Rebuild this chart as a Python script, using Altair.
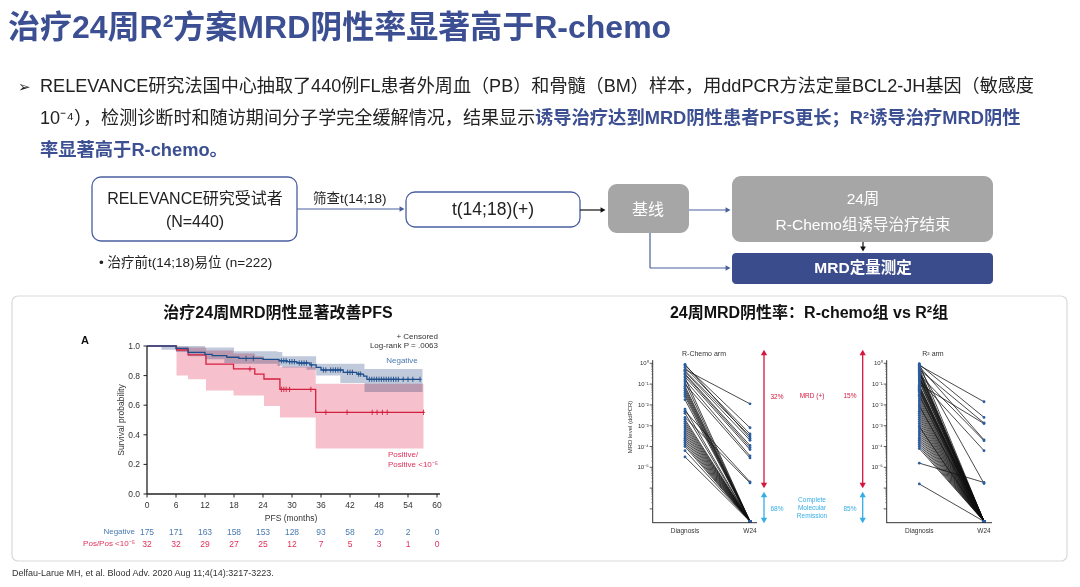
import math
import altair as alt
import pandas as pd

OFF = 8
FONT = "Liberation Sans, Noto Sans CJK SC, sans-serif"

# ---------------- data ----------------
# KM: MRD negative (blue) and positive/positive<1e-5 (red)
neg_t = [0, 6, 8.5, 12, 13.5, 16.5, 19, 24, 27.3, 29, 31, 33.7, 35, 36, 40.6, 43.4, 44.8, 45.5, 56.5]
neg_s = [1.0, 0.984, 0.957, 0.944, 0.935, 0.924, 0.916, 0.91, 0.9, 0.894, 0.885, 0.872, 0.855, 0.838, 0.822, 0.81, 0.797, 0.775, 0.775]
neg_band_t = [3, 6, 8.5, 12, 16, 18, 27, 28, 33, 35, 40, 45, 57]
neg_band_lo = [0.975, 0.96, 0.93, 0.91, 0.885, 0.88, 0.865, 0.855, 0.84, 0.80, 0.75, 0.69, 0.69]
neg_band_hi = [1.0, 1.0, 1.0, 0.99, 0.99, 0.965, 0.96, 0.93, 0.93, 0.88, 0.88, 0.845, 0.845]
neg_cens = [20.5, 22, 27.8, 28.3, 28.8, 29.5, 30, 30.5, 31.5, 32, 32.5, 33, 34, 36.5, 37, 38, 38.5, 39,
            39.5, 40, 41.5, 42, 42.5, 43.8, 44.2, 46, 46.5, 47, 47.5, 48, 48.5, 49, 49.5, 50, 50.5, 51,
            51.5, 52, 53, 54, 55, 56.5]

pos_t = [0, 6.1, 8.5, 12.2, 17.9, 22.3, 24.2, 27.5, 34.9, 57.2]
pos_s = [1.0, 0.973, 0.94, 0.878, 0.845, 0.81, 0.777, 0.707, 0.552, 0.552]
pos_band_t = [6.1, 8.5, 12.2, 17.9, 22.3, 24.2, 27.5, 34.9, 57.2]
pos_band_lo = [0.80, 0.775, 0.70, 0.665, 0.665, 0.595, 0.517, 0.308, 0.308]
pos_band_hi = [0.995, 0.99, 0.97, 0.95, 0.93, 0.91, 0.86, 0.745, 0.745]
pos_cens = [21.3, 27.8, 28.3, 28.8, 29.5, 33.9, 37, 41.4, 46.6, 47.6, 48.7, 49.7, 57.2]

km_xticks = [0, 6, 12, 18, 24, 30, 36, 42, 48, 54, 60]
km_yticks = [0.0, 0.2, 0.4, 0.6, 0.8, 1.0]
km_ylabels = ["0.0", "0.2", "0.4", "0.6", "0.8", "1.0"]
risk_neg = [175, 171, 163, 158, 153, 128, 93, 58, 20, 2, 0]
risk_pos = [32, 32, 29, 27, 25, 12, 7, 5, 3, 1, 0]

# MRD spaghetti (log10 MRD level); UND = undetectable (plotted at the axis floor)
UND = -7.6
rc_diag = [-0.05, -0.1, -0.2, -0.3, -0.35, -0.4, -0.5, -0.55, -0.65, -0.7, -0.8, -0.9, -1.0, -1.1, -1.2,
           -1.3, -1.4, -1.5, -1.6, -1.75, -2.2, -2.3, -2.4, -2.6, -2.7, -2.8, -2.9, -3.0, -3.1, -3.2,
           -3.3, -3.4, -3.5, -3.6, -3.7, -3.8, -3.9, -4.0, -4.2, -4.5]
rc_w24 = [-3.6, -3.1, -3.4, -1.95, -3.5, -3.7, -3.95, -4.05, -4.15, UND, -4.45, UND, -4.55, UND, UND,
          UND, UND, UND, UND, UND, UND, -5.7, UND, -5.75, UND, UND, UND, UND, UND, UND,
          UND, UND, UND, UND, UND, UND, UND, UND, UND, UND]
r2_diag = [-0.02, -0.05, -0.1, -0.15, -0.2, -0.25, -0.3, -0.35, -0.4, -0.45, -0.5, -0.55, -0.6, -0.65,
           -0.7, -0.75, -0.8, -0.85, -0.9, -1.0, -1.05, -1.1, -1.15, -1.2, -1.25, -1.3, -1.35, -1.4,
           -1.5, -1.55, -1.6, -1.7, -1.8, -1.9, -2.0, -2.05, -2.1, -2.2, -2.3, -2.4, -2.5, -2.6, -2.7,
           -2.8, -2.9, -3.0, -3.05, -3.1, -3.2, -3.3, -3.4, -3.5, -3.6, -3.7, -3.8, -3.9, -4.0, -4.1,
           -4.8, -5.8]
r2_w24 = [UND, -2.6, -1.85, -3.68, -5.78, UND, -2.87, UND, UND, UND, UND, -3.72, UND, UND,
          UND, UND, -4.2, UND, UND, -2.9, UND, UND, UND, UND, UND, UND, UND, UND,
          UND, UND, UND, UND, UND, UND, UND, UND, UND, UND, UND, UND, UND, UND, UND,
          UND, UND, UND, UND, UND, UND, UND, UND, UND, UND, UND, UND, UND, UND, UND,
          -5.73, UND]
mrd_ticks = [0, -1, -2, -3, -4, -5]
mrd_labels = ["10⁰", "10⁻¹", "10⁻²", "10⁻³", "10⁻⁴", "10⁻⁵"]
timepoints = ["Diagnosis", "W24"]

# ---------------- scales (pixel ranges inside the 1064x571 view) ----------------
def P(v):
    return v - OFF

KX = alt.Scale(domain=[0, 60], range=[P(147), P(437)], nice=False, zero=False)
KY = alt.Scale(domain=[0, 1], range=[P(494), P(346)], nice=False, zero=False)
SY = alt.Scale(domain=[-5, 0], range=[P(467.3), P(363.3)], nice=False, zero=False)
SX1 = alt.Scale(domain=[0, 1], range=[P(685), P(750)], nice=False, zero=False)
SX2 = alt.Scale(domain=[0, 1], range=[P(919.3), P(984)], nice=False, zero=False)

layers = []

def px(field):
    return alt.X(field, scale=None, axis=None)

def py(field):
    return alt.Y(field, scale=None, axis=None)

def text_layer(rows, weight="normal", align="center", angle=0, font=FONT, style=None):
    df = pd.DataFrame(rows, columns=["label", "x", "y", "size", "color"])
    df["x"] = df["x"] - OFF
    df["y"] = df["y"] - OFF
    kw = dict(align=align, baseline="middle", font=font, fontWeight=weight, angle=angle)
    if style:
        kw["fontStyle"] = style
    return alt.Chart(df).mark_text(**kw).encode(
        x=px("x:Q"), y=py("y:Q"), text="label:N",
        size=alt.Size("size:Q", scale=None, legend=None),
        color=alt.Color("color:N", scale=None, legend=None))

def rules(rows, color, width=1.0):
    df = pd.DataFrame(rows, columns=["x", "y", "x2", "y2"])
    for c in df.columns:
        df[c] = df[c] - OFF
    return alt.Chart(df).mark_rule(color=color, strokeWidth=width).encode(
        x=px("x:Q"), y=py("y:Q"), x2="x2:Q", y2="y2:Q")

def heads(rows, color, shape, size=35):
    df = pd.DataFrame(rows, columns=["x", "y"])
    df["x"] = df["x"] - OFF
    df["y"] = df["y"] - OFF
    return alt.Chart(df).mark_point(shape=shape, filled=True, color=color, size=size, opacity=1).encode(
        x=px("x:Q"), y=py("y:Q"))

def boxes(rows, fill, stroke=None, radius=8):
    df = pd.DataFrame(rows, columns=["x", "y", "x2", "y2"])
    for c in df.columns:
        df[c] = df[c] - OFF
    kw = dict(cornerRadius=radius, fill=fill)
    if stroke:
        kw.update(stroke=stroke, strokeWidth=1.3)
    return alt.Chart(df).mark_rect(**kw).encode(x=px("x:Q"), y=py("y:Q"), x2="x2:Q", y2="y2:Q")

BLUE_T = "#3b4f92"
NAVY = "#3b4c8c"
GREY = "#a6a6a6"
LINEB = "#4a5f9e"

# ---------------- slide header ----------------
layers.append(text_layer([["治疗24周R²方案MRD阴性率显著高于R-chemo", 8, 28, 32, BLUE_T]],
                         weight="bold", align="left"))
layers.append(text_layer([
    ["➢", 18, 87, 15, "#222222"],
    ["RELEVANCE研究法国中心抽取了440例FL患者外周血（PB）和骨髓（BM）样本，用ddPCR方法定量BCL2-JH基因（敏感度", 40, 87, 18.1, "#222222"],
    ["10⁻⁴），检测诊断时和随访期间分子学完全缓解情况，结果显示", 40, 119, 18.1, "#222222"],
], align="left"))
layers.append(text_layer([
    ["诱导治疗达到MRD阴性患者PFS更长；R²诱导治疗MRD阴性", 535, 119, 18.3, BLUE_T],
    ["率显著高于R-chemo。", 40, 151, 18.3, BLUE_T],
], weight="bold", align="left"))

# ---------------- flowchart ----------------
layers.append(boxes([[92, 177, 297, 241], [406, 192, 580, 227]], "white", stroke=LINEB, radius=9))
layers.append(boxes([[608, 184, 689, 233], [732, 176, 993, 242]], GREY, radius=9))
layers.append(boxes([[732, 253, 993, 284]], NAVY, radius=4))
layers.append(rules([[297, 209, 401, 209], [689, 210, 727, 210], [650, 233, 650, 268], [650, 268, 727, 268]], LINEB, 1.2))
layers.append(rules([[580, 210, 602, 210], [863, 242, 863, 248]], "#111111", 1.2))
layers.append(heads([[402, 209], [728, 210], [728, 268]], LINEB, "triangle-right", 32))
layers.append(heads([[603, 210]], "#111111", "triangle-right", 32))
layers.append(heads([[863, 249]], "#111111", "triangle-down", 32))
layers.append(text_layer([
    ["RELEVANCE研究受试者", 195, 199, 16, "#222222"],
    ["(N=440)", 195, 222, 16, "#222222"],
    ["t(14;18)(+)", 493, 210, 17.5, "#222222"],
], align="center"))
layers.append(text_layer([
    ["筛查t(14;18)", 313, 199, 13.5, "#222222"],
    ["•  治疗前t(14;18)易位 (n=222)", 99, 263, 13.5, "#222222"],
], align="left"))
layers.append(text_layer([
    ["基线", 648, 210, 16, "white"],
    ["24周", 863, 199, 15.5, "white"],
    ["R-Chemo组诱导治疗结束", 863, 225, 15.5, "white"],
], align="center"))
layers.append(text_layer([["MRD定量测定", 863, 268, 15.5, "white"]], weight="bold", align="center"))

# ---------------- panel frame & titles ----------------
frame = pd.DataFrame([[12 - OFF, 296 - OFF, 1067 - OFF, 561 - OFF]], columns=["x", "y", "x2", "y2"])
layers.append(alt.Chart(frame).mark_rect(fillOpacity=0, stroke="#d9d9d9", strokeWidth=1.2, cornerRadius=6).encode(
    x=px("x:Q"), y=py("y:Q"), x2="x2:Q", y2="y2:Q"))
layers.append(text_layer([
    ["治疗24周MRD阴性显著改善PFS", 278, 313, 16, "#111111"],
    ["24周MRD阴性率：R-chemo组 vs R²组", 809, 313, 16, "#111111"],
    ["A", 85, 341, 11, "#111111"],
], weight="bold", align="center"))
layers.append(text_layer([["Delfau-Larue MH, et al. Blood Adv. 2020 Aug 11;4(14):3217-3223.", 12, 573, 9, "#333333"]],
                         align="left"))

# ---------------- KM plot ----------------
RED = "#d4203f"
NAVYL = "#1e4e8c"
band_pos = pd.DataFrame({"t": pos_band_t, "lo": pos_band_lo, "hi": pos_band_hi})
band_neg = pd.DataFrame({"t": neg_band_t, "lo": neg_band_lo, "hi": neg_band_hi})
layers.append(alt.Chart(band_pos).mark_area(interpolate="step-after", color="#f6c1cc", blend="multiply").encode(
    x=alt.X("t:Q", scale=KX, axis=None), y=alt.Y("lo:Q", scale=KY, axis=None), y2="hi:Q"))
layers.append(alt.Chart(band_neg).mark_area(interpolate="step-after", color="#c0cadb", blend="multiply").encode(
    x=alt.X("t:Q", scale=KX, axis=None), y=alt.Y("lo:Q", scale=KY, axis=None), y2="hi:Q"))

def step_at(ts, ss, t):
    val = ss[0]
    for a, b in zip(ts, ss):
        if a <= t:
            val = b
    return val

for ts, ss, cens, col in [(pos_t, pos_s, pos_cens, RED), (neg_t, neg_s, neg_cens, NAVYL)]:
    curve = pd.DataFrame({"t": ts, "s": ss})
    layers.append(alt.Chart(curve).mark_line(interpolate="step-after", color=col, strokeWidth=1.3).encode(
        x=alt.X("t:Q", scale=KX, axis=None), y=alt.Y("s:Q", scale=KY, axis=None)))
    cdf = pd.DataFrame({"t": cens, "s": [step_at(ts, ss, c) for c in cens]})
    layers.append(alt.Chart(cdf).mark_point(shape="M0,-1L0,1M-0.6,0L0.6,0", filled=False, color=col,
                                            strokeWidth=0.9, size=28, opacity=1).encode(
        x=alt.X("t:Q", scale=KX, axis=None), y=alt.Y("s:Q", scale=KY, axis=None)))

# KM axes
yax = pd.DataFrame({"t": [0], "s0": [0], "s1": [1.0]})
layers.append(alt.Chart(yax).mark_rule(color="#222222", strokeWidth=1.3).encode(
    x=alt.X("t:Q", scale=KX, axis=None), y=alt.Y("s0:Q", scale=KY, axis=None), y2="s1:Q"))
xax = pd.DataFrame({"t0": [0], "t1": [60.6], "s": [0]})
layers.append(alt.Chart(xax).mark_rule(color="#222222", strokeWidth=1.3).encode(
    x=alt.X("t0:Q", scale=KX, axis=None), x2="t1:Q", y=alt.Y("s:Q", scale=KY, axis=None)))
xt = pd.DataFrame({"t": km_xticks, "lab": [str(v) for v in km_xticks], "neg": [str(v) for v in risk_neg],
                   "pos": [str(v) for v in risk_pos], "ya": P(494), "yb": P(497.5)})
layers.append(alt.Chart(xt).mark_rule(color="#222222", strokeWidth=1).encode(
    x=alt.X("t:Q", scale=KX, axis=None), y=py("ya:Q"), y2="yb:Q"))
for field, ypix, col in [("lab", 505, "#333333"), ("neg", 532, "#4a7ab0"), ("pos", 544, "#e0305a")]:
    layers.append(alt.Chart(xt).transform_calculate(yy=str(P(ypix))).mark_text(
        font=FONT, fontSize=8.5, color=col, baseline="middle").encode(
        x=alt.X("t:Q", scale=KX, axis=None), y=py("yy:Q"), text=f"{field}:N"))
yt = pd.DataFrame({"s": km_yticks, "lab": km_ylabels, "xa": P(143.5), "xb": P(147), "xl": P(140)})
layers.append(alt.Chart(yt).mark_rule(color="#222222", strokeWidth=1).encode(
    x=px("xa:Q"), x2="xb:Q", y=alt.Y("s:Q", scale=KY, axis=None)))
layers.append(alt.Chart(yt).mark_text(font=FONT, fontSize=8.5, color="#333333", align="right", baseline="middle").encode(
    x=px("xl:Q"), y=alt.Y("s:Q", scale=KY, axis=None), text="lab:N"))
layers.append(text_layer([["Survival probability", 121, 420, 8.5, "#333333"]], angle=270))
layers.append(text_layer([
    ["PFS (months)", 291, 518, 8.5, "#333333"],
], align="center"))
layers.append(text_layer([
    ["+ Censored", 438, 337, 8, "#333333"],
    ["Log-rank P = .0063", 438, 346, 8, "#333333"],
    ["Negative", 135, 532, 8, "#4a7ab0"],
    ["Pos/Pos <10⁻⁵", 135, 544, 8, "#e0305a"],
], align="right"))
layers.append(text_layer([["Negative", 402, 361, 8, "#4a7ab0"]], align="center"))
layers.append(text_layer([
    ["Positive/", 388, 455, 8, "#e0305a"],
    ["Positive <10⁻⁵", 388, 465, 8, "#e0305a"],
], align="left"))

# ---------------- MRD spaghetti plots ----------------
for arm, (diag, w24, SX, axx, axend, title, tx) in enumerate([
        (rc_diag, rc_w24, SX1, 652.7, 757, "R-Chemo arm", 704),
        (r2_diag, r2_w24, SX2, 886.7, 992, "R² arm", 933)]):
    rows = []
    for i, (a, b) in enumerate(zip(diag, w24)):
        rows.append({"pid": i, "tp": 0, "v": a})
        rows.append({"pid": i, "tp": 1, "v": b})
    sdf = pd.DataFrame(rows)
    layers.append(alt.Chart(sdf).mark_line(color="#111111", strokeWidth=0.85, opacity=0.9).encode(
        x=alt.X("tp:Q", scale=SX, axis=None), y=alt.Y("v:Q", scale=SY, axis=None), detail="pid:N"))
    layers.append(alt.Chart(sdf).mark_circle(color="#2b5c9e", size=8, opacity=1).encode(
        x=alt.X("tp:Q", scale=SX, axis=None), y=alt.Y("v:Q", scale=SY, axis=None)))
    # axes
    ya = pd.DataFrame({"x": [P(axx)], "v0": [0.15], "v1": [-7.68]})
    layers.append(alt.Chart(ya).mark_rule(color="#333333", strokeWidth=1).encode(
        x=px("x:Q"), y=alt.Y("v0:Q", scale=SY, axis=None), y2="v1:Q"))
    layers.append(rules([[axx, 522.7, axend, 522.7]], "#333333", 1))
    major = pd.DataFrame({"v": [0, -1, -2, -3, -4, -5, -6, -7], "xa": P(axx - 3), "xb": P(axx)})
    layers.append(alt.Chart(major).mark_rule(color="#333333", strokeWidth=0.8).encode(
        x=px("xa:Q"), x2="xb:Q", y=alt.Y("v:Q", scale=SY, axis=None)))
    minor_v = [-(d + 1) + math.log10(k) for d in range(7) for k in range(2, 10)]
    minor = pd.DataFrame({"v": minor_v, "xa": P(axx - 1.6), "xb": P(axx)})
    layers.append(alt.Chart(minor).mark_rule(color="#555555", strokeWidth=0.5).encode(
        x=px("xa:Q"), x2="xb:Q", y=alt.Y("v:Q", scale=SY, axis=None)))
    lab = pd.DataFrame({"v": mrd_ticks, "lab": mrd_labels, "xl": P(axx - 4)})
    layers.append(alt.Chart(lab).mark_text(font=FONT, fontSize=6, color="#333333", align="right", baseline="middle").encode(
        x=px("xl:Q"), y=alt.Y("v:Q", scale=SY, axis=None), text="lab:N"))
    xl = pd.DataFrame({"tp": [0, 1], "lab": timepoints, "yy": P(531)})
    layers.append(alt.Chart(xl).mark_text(font=FONT, fontSize=6.5, color="#333333", baseline="middle").encode(
        x=alt.X("tp:Q", scale=SX, axis=None), y=py("yy:Q"), text="lab:N"))
    layers.append(text_layer([[title, tx, 354, 7, "#333333"]], align="center"))

layers.append(text_layer([["MRD level (ddPCR)", 630, 427, 6, "#333333"]], angle=270))

# arrows between panels
RED2 = "#d6163e"
LBLUE = "#35aee6"
for ax_x in [764, 862.7]:
    layers.append(rules([[ax_x, 354, ax_x, 484]], RED2, 1.3))
    layers.append(rules([[ax_x, 495, ax_x, 520]], LBLUE, 1.3))
    layers.append(heads([[ax_x, 352.5]], RED2, "triangle-up", 40))
    layers.append(heads([[ax_x, 485.5]], RED2, "triangle-down", 40))
    layers.append(heads([[ax_x, 494.5]], LBLUE, "triangle-up", 40))
    layers.append(heads([[ax_x, 520.5]], LBLUE, "triangle-down", 40))
layers.append(text_layer([
    ["32%", 777, 397, 6.5, RED2],
    ["68%", 777, 509, 6.5, LBLUE],
    ["MRD (+)", 812, 396, 6.5, RED2],
    ["15%", 850, 396, 6.5, RED2],
    ["Complete", 812, 500, 6.5, LBLUE],
    ["Molecular", 812, 508, 6.5, LBLUE],
    ["Remission", 812, 516, 6.5, LBLUE],
    ["85%", 850, 509, 6.5, LBLUE],
], align="center"))

chart = alt.layer(*layers).resolve_scale(
    x="independent", y="independent", color="independent", size="independent"
).properties(
    width=1064, height=571, padding=0, autosize=alt.AutoSizeParams(type="none")
).configure_view(stroke=None)

chart.save("out.html", embed_options={"renderer": "svg", "actions": False})
